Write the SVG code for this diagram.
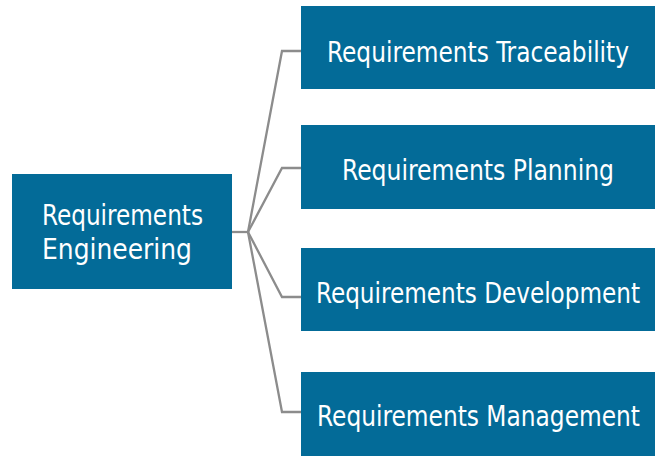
<svg xmlns="http://www.w3.org/2000/svg" width="657" height="456" viewBox="0 0 657 456">
<style>
.box{fill:#036b98}
.t{font-family:"DejaVu Sans Condensed","DejaVu Sans","Liberation Sans",sans-serif;font-size:28.5px;fill:#ffffff}
.c{fill:none;stroke:#8c8c8c;stroke-width:2.3}
</style>
<rect width="657" height="456" fill="#ffffff"/>
<g id="connectors">
<polyline class="c" points="232,232 248,232"/>
<polyline class="c" points="248,232 282,51 301,51"/>
<polyline class="c" points="248,232 282,168 301,168"/>
<polyline class="c" points="248,232 282,297 301,297"/>
<polyline class="c" points="248,232 282,412 301,412"/>
</g>
<g id="n-engineering">
<rect class="box" x="12" y="174" width="220" height="115"/>
<text class="t" x="42" y="225" textLength="161" lengthAdjust="spacingAndGlyphs">Requirements</text>
<text class="t" x="42" y="259" textLength="150" lengthAdjust="spacingAndGlyphs">Engineering</text>
</g>
<g id="n-traceability">
<rect class="box" x="301" y="6" width="354" height="83"/>
<text class="t" x="327" y="62" textLength="302" lengthAdjust="spacingAndGlyphs">Requirements Traceability</text>
</g>
<g id="n-planning">
<rect class="box" x="301" y="125" width="354" height="84"/>
<text class="t" x="342" y="180" textLength="272" lengthAdjust="spacingAndGlyphs">Requirements Planning</text>
</g>
<g id="n-development">
<rect class="box" x="301" y="248" width="354" height="83"/>
<text class="t" x="316" y="303" textLength="324" lengthAdjust="spacingAndGlyphs">Requirements Development</text>
</g>
<g id="n-management">
<rect class="box" x="301" y="372" width="354" height="84"/>
<text class="t" x="317" y="426" textLength="323" lengthAdjust="spacingAndGlyphs">Requirements Management</text>
</g>
</svg>
